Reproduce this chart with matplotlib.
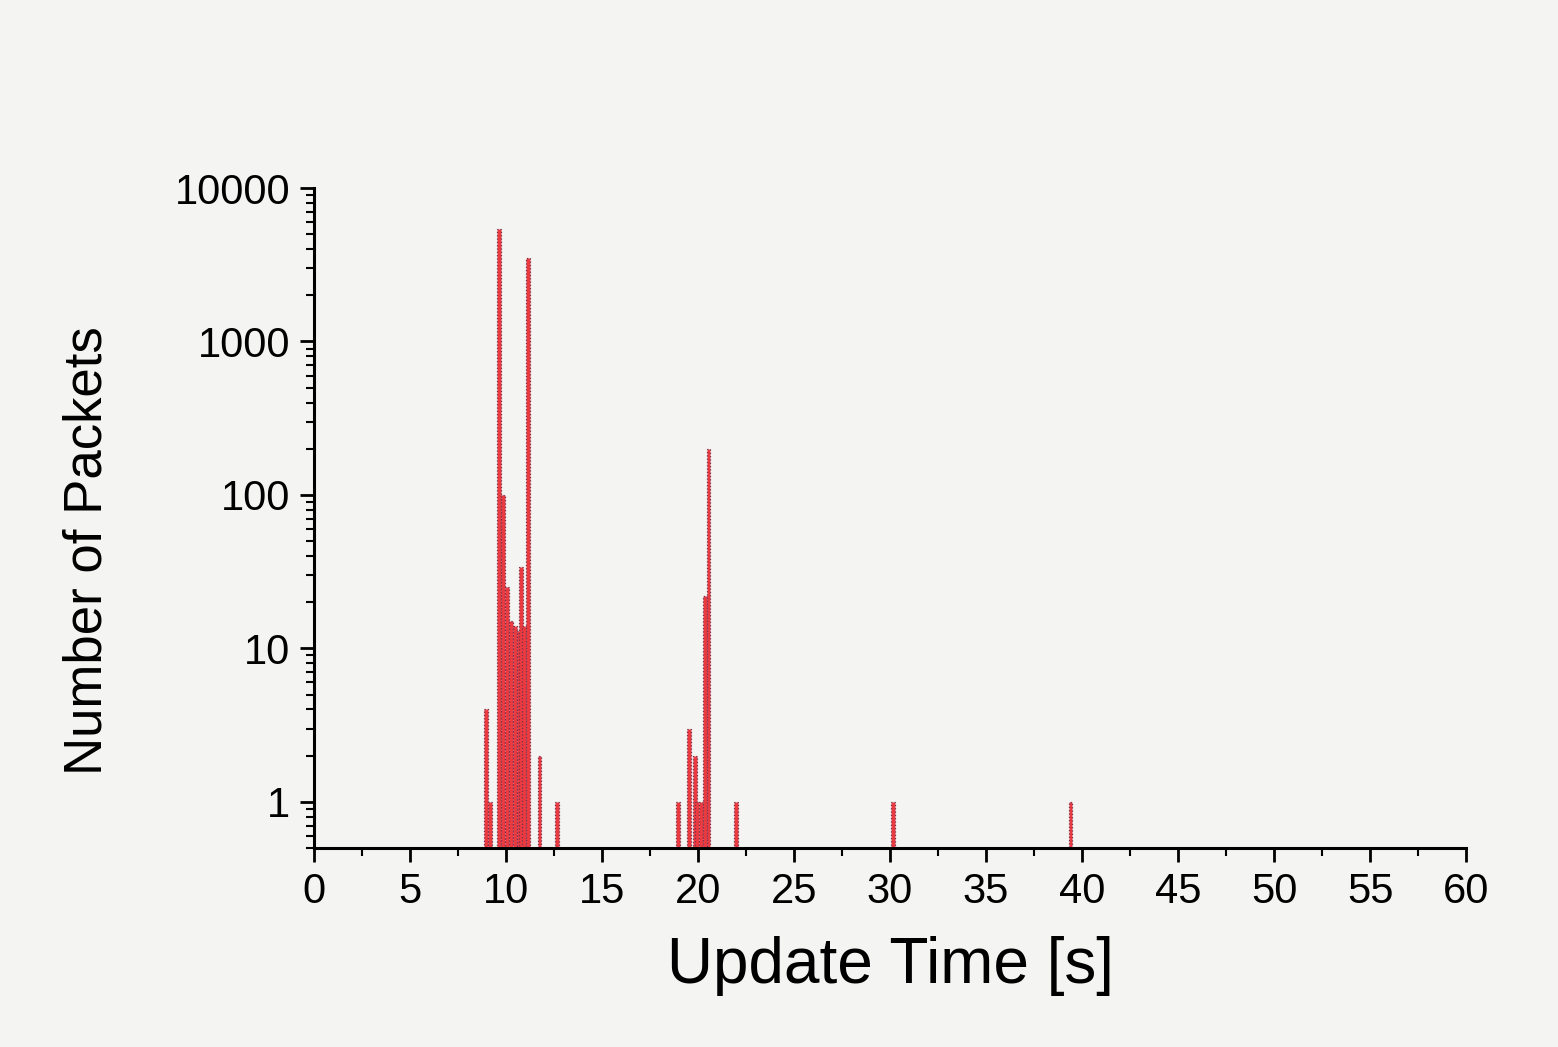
import numpy as np
import matplotlib.pyplot as plt
from matplotlib.ticker import LogLocator, FixedLocator, NullFormatter

plt.rcParams['font.family'] = ['Liberation Sans', 'DejaVu Sans']

# histogram bin centres (s) and counts
bin_center = [8.95, 9.15, 9.65, 9.85, 10.05, 10.25, 10.45, 10.65, 10.8,
              10.95, 11.15, 11.75, 12.65,
              18.95, 19.55, 19.85, 19.95, 20.15, 20.35, 20.55,
              22.0, 30.15, 39.4]
counts = [4, 1, 5400, 100, 25, 15, 14, 13, 34,
          14, 3500, 2, 1,
          1, 3, 2, 1, 1, 22, 200,
          1, 1, 1]
bin_width = 0.2

x_ticks = list(range(0, 61, 5))
y_ticks = [1, 10, 100, 1000, 10000]

fig = plt.figure(figsize=(15.58, 10.47), dpi=100)
fig.patch.set_facecolor('#f4f4f2')
ax = fig.add_axes([0.2015, 0.19, 0.7395, 0.6304])
ax.set_facecolor('#f4f4f2')

y_floor = 0.5
heights = np.array(counts, dtype=float) - y_floor
ax.bar(bin_center, heights, width=bin_width, bottom=y_floor,
       color='#ec3b40', edgecolor='#74304e', linewidth=0.9, linestyle=':')

ax.set_yscale('log')
ax.set_xlim(0, 60)
ax.set_ylim(y_floor, 10000)

ax.xaxis.set_major_locator(FixedLocator(x_ticks))
ax.xaxis.set_minor_locator(FixedLocator(np.arange(2.5, 60, 5)))
ax.set_xticklabels([str(t) for t in x_ticks])
ax.yaxis.set_major_locator(FixedLocator(y_ticks))
ax.set_yticklabels([str(t) for t in y_ticks])
ax.yaxis.set_minor_locator(LogLocator(base=10, subs=np.arange(2, 10)))
ax.yaxis.set_minor_formatter(NullFormatter())

for s in ['top', 'right']:
    ax.spines[s].set_visible(False)
for s in ['left', 'bottom']:
    ax.spines[s].set_linewidth(2.2)

ax.tick_params(axis='both', which='major', direction='out', length=10, width=2,
               labelsize=30, pad=7)
ax.tick_params(axis='both', which='minor', direction='out', length=6, width=1.5)

ax.set_xlabel('Update Time [s]', fontsize=46)
ax.xaxis.set_label_coords(0.5, -0.133)
ax.set_ylabel('Number of Packets', fontsize=38)
ax.yaxis.set_label_coords(-0.175, 0.45)

fig.savefig('out.png', dpi=100, facecolor=fig.get_facecolor())
